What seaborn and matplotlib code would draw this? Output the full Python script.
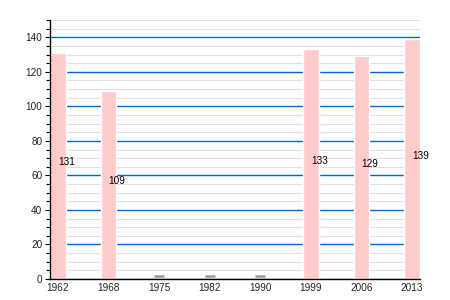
import numpy as np
import pandas as pd
import matplotlib
matplotlib.use("Agg")
import matplotlib.pyplot as plt
import seaborn as sns
from matplotlib.ticker import MultipleLocator
from matplotlib import font_manager as fm

years = ["1962", "1968", "1975", "1982", "1990", "1999", "2006", "2013"]
values = [131, 109, np.nan, np.nan, np.nan, 133, 129, 139]
missing_level = 1.7

sns.set_theme(style="white")
fam = "DejaVu Sans"
for f in fm.fontManager.ttflist:
    if f.fname.endswith("LiberationSans-Regular.ttf"):
        fam = f.name
        break
plt.rcParams['font.family'] = [fam, 'DejaVu Sans']
print(fam, [f.fname for f in fm.fontManager.ttflist if 'Liberation' in f.fname])

df = pd.DataFrame({"year": years, "value": values})

fig = plt.figure(figsize=(4.5, 3), dpi=100)
ax = fig.add_axes([50/450, 21/300, 370/450, 259/300])

sns.barplot(data=df, x="year", y="value", order=years, color="#ffcccc",
            saturation=1, width=0.31, ax=ax, zorder=3)

pos = np.arange(len(years))
miss = df["value"].isna().to_numpy()
ax.scatter(pos[miss], np.full(miss.sum(), missing_level), marker="_",
           s=55, linewidths=1.8, color="#999999", zorder=4)

for i, v in enumerate(values):
    if not np.isnan(v):
        ax.annotate(f"{int(v)}", (i, v / 2), xytext=(0, 2.5), textcoords="offset points",
                    ha="left", va="center", fontsize=7.2, color="#000000", zorder=5)

ax.set_xlim(-0.155, len(years) - 1 + 0.155)
ax.set_ylim(0, 150)
ax.yaxis.set_major_locator(MultipleLocator(20))
ax.yaxis.set_minor_locator(MultipleLocator(5))
ax.grid(which="minor", axis="y", color="#e0e0e0", linewidth=0.8, zorder=0)
ax.grid(which="major", axis="y", color="#0066cc", linewidth=1.0, zorder=1)
ax.set_axisbelow(True)
ax.set_xlabel("")
ax.set_ylabel("")

for s in ["top", "right"]:
    ax.spines[s].set_visible(False)
for s in ["left", "bottom"]:
    ax.spines[s].set_color("#000000")
    ax.spines[s].set_linewidth(1.0)
    ax.spines[s].set_zorder(6)

ax.tick_params(axis="y", which="both", direction="out", length=3.5, width=0.8,
               color="#000000", labelsize=7.2, labelcolor="#222222", pad=2, left=True)
ax.tick_params(axis="y", which="minor", length=3)
ax.tick_params(axis="x", length=0, labelsize=7.2, labelcolor="#222222", pad=3)

fig.savefig("out.png", dpi=100)
